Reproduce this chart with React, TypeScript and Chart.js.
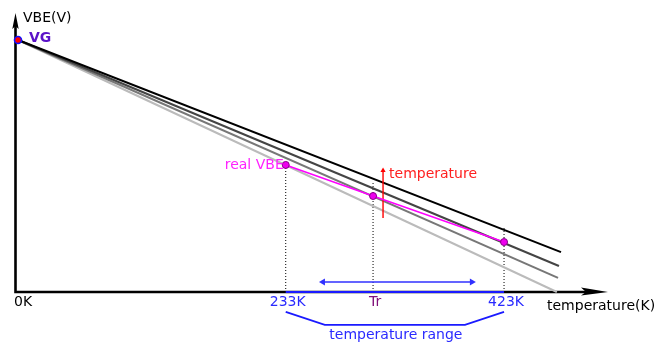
import React, { useEffect, useRef } from "react";
import { Chart, registerables } from "chart.js";

Chart.register(...registerables);

// ---- data (schematic values) ----
const tickTemps = [0, 233, 309, 423]; // K ; Tr placed schematically
const tickLabels = ["0K", "233K", "Tr", "423K"];
const VG = 1.2; // V at 0K
const lineEndTemps = [472.6, 470.8, 470, 469];
const lineEndVbe = [0.19, 0.124, 0.067, 0];
const realVbeTemps = [233, 309, 423];
const realVbeValues = [0.605, 0.457, 0.238];
const dottedTopVbe = [0.605, 0.52, 0.305];
const rangeArrowTemps = [265.4, 395];
const rangeArrowVbe = 0.048;
const tempArrowTemp = 317.7;
const tempArrowVbe = [0.352, 0.578];
const bracketTemps = [233, 267, 389, 423];
const bracketVbe = [-0.095, -0.157, -0.157, -0.095];

// ---- styles ----
const lineColors = ["#000000", "#444444", "#777777", "#bbbbbb"];
const BLUE = "#2a2aff";
const MAGENTA = "#ff00ff";
const FONT = '"DejaVu Sans", Verdana, sans-serif';

const axesPlugin = {
  id: "axesArrows",
  beforeDatasetsDraw(chart: any) {
    const { ctx, scales } = chart;
    const x0 = scales.x.getPixelForValue(0) - 2.5;
    const y0 = scales.y.getPixelForValue(0);
    const yTop = chart.chartArea.top - 6;
    const xEnd = chart.chartArea.right + 4;
    ctx.save();
    ctx.strokeStyle = "#000";
    ctx.fillStyle = "#000";
    ctx.lineWidth = 2.6;
    ctx.beginPath();
    ctx.moveTo(x0, y0);
    ctx.lineTo(x0, yTop + 12);
    ctx.moveTo(x0 - 1.3, y0);
    ctx.lineTo(xEnd - 20, y0);
    ctx.stroke();
    // y arrowhead
    ctx.beginPath();
    ctx.moveTo(x0, yTop);
    ctx.lineTo(x0 + 3.2, yTop + 16);
    ctx.lineTo(x0, yTop + 13);
    ctx.lineTo(x0 - 3.2, yTop + 16);
    ctx.closePath();
    ctx.fill();
    // x arrowhead
    ctx.beginPath();
    ctx.moveTo(xEnd, y0);
    ctx.lineTo(xEnd - 27, y0 - 4.5);
    ctx.lineTo(xEnd - 22, y0);
    ctx.lineTo(xEnd - 27, y0 + 3.5);
    ctx.closePath();
    ctx.fill();
    ctx.restore();
  },
};

const textPlugin = {
  id: "texts",
  afterDatasetsDraw(chart: any) {
    const { ctx, scales } = chart;
    const X = (v: number) => scales.x.getPixelForValue(v);
    const Y = (v: number) => scales.y.getPixelForValue(v);
    ctx.save();
    ctx.textBaseline = "middle";
    ctx.font = `14px ${FONT}`;
    // axis titles
    ctx.fillStyle = "#000";
    ctx.textAlign = "left";
    ctx.fillText("VBE(V)", X(0) + 5, Y(VG) - 22);
    ctx.fillText("temperature(K)", chart.chartArea.right - 57, Y(0) + 14);
    // VG
    ctx.font = `bold 14px ${FONT}`;
    ctx.fillStyle = "#5a12c8";
    ctx.fillText("VG", X(0) + 11, Y(VG) - 2);
    ctx.font = `14px ${FONT}`;
    // real VBE
    ctx.fillStyle = "#ff22ff";
    ctx.textAlign = "right";
    ctx.fillText("real VBE", X(realVbeTemps[0]) - 2, Y(realVbeValues[0]));
    // temperature arrow label
    ctx.fillStyle = "#ff2020";
    ctx.textAlign = "left";
    ctx.fillText("temperature", X(tempArrowTemp) + 6, Y(tempArrowVbe[1]) + 4);
    // tick labels
    const tickColors = ["#000", BLUE, "#80107a", BLUE];
    tickTemps.forEach((t, i) => {
      ctx.fillStyle = tickColors[i];
      ctx.textAlign = i === 0 ? "left" : "center";
      ctx.fillText(tickLabels[i], i === 0 ? X(t) - 4 : X(t) + 2, Y(0) + 10);
    });
    // range label
    ctx.fillStyle = BLUE;
    ctx.textAlign = "center";
    ctx.fillText(
      "temperature range",
      (X(bracketTemps[0]) + X(bracketTemps[3])) / 2 + 1,
      Y(bracketVbe[1]) + 10
    );
    ctx.restore();
  },
};

export default function App() {
  const ref = useRef<HTMLCanvasElement>(null);
  useEffect(() => {
    if (!ref.current) return;
    const base = { showLine: true, clip: false as any, fill: false };
    const datasets: any[] = [];
    // VG point
    datasets.push({
      ...base,
      data: [{ x: 0, y: VG }],
      pointRadius: 3.5,
      pointBackgroundColor: "#ff0000",
      pointBorderColor: "#1010ff",
      pointBorderWidth: 1.6,
    });
    // real VBE points and line
    datasets.push({
      ...base,
      data: realVbeTemps.map((t, i) => ({ x: t, y: realVbeValues[i] })),
      borderColor: MAGENTA,
      borderWidth: 1.5,
      pointRadius: 3.5,
      pointBackgroundColor: "#ee00ee",
      pointBorderColor: "#880088",
      pointBorderWidth: 1,
    });
    // temperature arrow (red)
    datasets.push({
      ...base,
      data: tempArrowVbe.map((v) => ({ x: tempArrowTemp, y: v })),
      borderColor: "#ff0000",
      borderWidth: 1.4,
      pointStyle: "triangle",
      pointRadius: [0, 3],
      pointBackgroundColor: "#ff0000",
      pointBorderWidth: 0,
    });
    // range double arrow (blue)
    datasets.push({
      ...base,
      data: rangeArrowTemps.map((t) => ({ x: t, y: rangeArrowVbe })),
      borderColor: "#3030ff",
      borderWidth: 1.5,
      pointStyle: "triangle",
      pointRotation: [270, 90],
      pointRadius: 4,
      pointBackgroundColor: "#3030ff",
      pointBorderWidth: 0,
    });
    // blue range segment on x axis
    datasets.push({
      ...base,
      data: [
        { x: tickTemps[1], y: 0 },
        { x: tickTemps[3], y: 0 },
      ],
      borderColor: "#1a1aff",
      borderWidth: 2.2,
      pointRadius: 0,
    });
    // bracket
    datasets.push({
      ...base,
      data: bracketTemps.map((t, i) => ({ x: t, y: bracketVbe[i] })),
      borderColor: "#1a1aff",
      borderWidth: 1.8,
      pointRadius: 0,
    });
    // temperature lines
    lineEndTemps.forEach((t, i) => {
      datasets.push({
        ...base,
        data: [
          { x: 0, y: VG },
          { x: t, y: lineEndVbe[i] },
        ],
        borderColor: lineColors[i],
        borderWidth: 2,
        pointRadius: 0,
      });
    });
    // dotted verticals
    [1, 2, 3].forEach((k, i) => {
      datasets.push({
        ...base,
        data: [
          { x: tickTemps[k], y: 0 },
          { x: tickTemps[k], y: dottedTopVbe[i] },
        ],
        borderColor: "#000",
        borderWidth: 1,
        borderDash: [1, 2],
        pointRadius: 0,
      });
    });

    const chart = new Chart(ref.current, {
      type: "scatter",
      data: { datasets },
      options: {
        responsive: false,
        animation: false,
        events: [],
        layout: { padding: { left: 18, right: 50, top: 19, bottom: 55 } },
        scales: {
          x: { type: "linear", min: 0, max: 510, display: false },
          y: { type: "linear", min: 0, max: 1.3, display: false },
        },
        plugins: { legend: { display: false }, tooltip: { enabled: false } },
      },
      plugins: [axesPlugin, textPlugin],
    });
    return () => chart.destroy();
  }, []);
  return (
    <div style={{ position: "absolute", left: 0, top: 0, width: 654, height: 347, background: "#fff" }}>
      <canvas ref={ref} width={654} height={347} />
    </div>
  );
}
